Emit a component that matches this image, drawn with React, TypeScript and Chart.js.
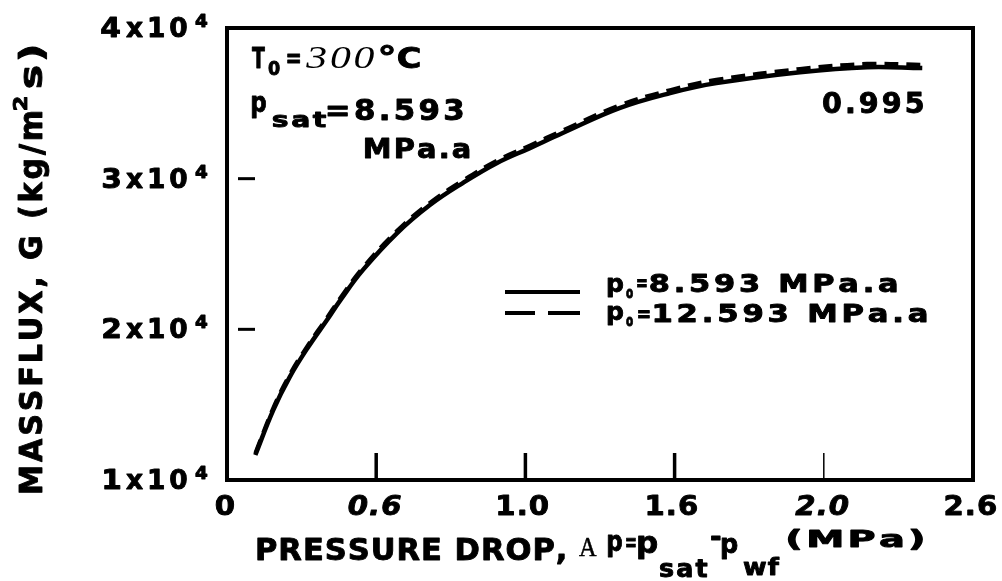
import React, { useEffect, useRef } from "react";
import { Chart, registerables } from "chart.js";

Chart.register(...registerables);

// ---- data (x in tick-interval units; the printed tick labels are below) ----
const xTickValues = [0, 1, 2, 3, 4, 5];
const xTickLabels = ["0", "0.6", "1.0", "1.6", "2.0", "2.6"];
const xTickItalic = [false, true, false, false, true, false];
const yTickValues = [10000, 20000, 30000, 40000];
const yTickMantissa = ["1", "2", "3", "4"];

const curveX = [0.19, 0.31, 0.42, 0.54, 0.67, 0.76, 0.91, 1.14, 1.36, 1.58, 1.81, 2.03, 2.25, 2.63, 2.97, 3.28, 3.84, 4.29, 4.66];
const solidG = [11660, 14640, 16830, 18760, 20620, 21940, 23930, 26390, 28250, 29710, 31040, 32030, 33030, 34680, 35680, 36340, 37070, 37400, 37340];
const dashedG = [11780, 14780, 16980, 18910, 20770, 22090, 24080, 26540, 28400, 29870, 31200, 32200, 33200, 34860, 35880, 36560, 37280, 37620, 37560];

const seriesValues = ["8.593 MPa.a", "12.593 MPa.a"];

const SANS = '"DejaVu Sans", "Liberation Sans", Arial, sans-serif';
const SERIF = '"Liberation Serif", "DejaVu Serif", serif';
const bold = (s: number) => `bold ${s}px ${SANS}`;

type Opt = { sx?: number; sp?: number; align?: "left" | "center" | "right"; x1?: number; heavy?: number };

// draws text char by char; aligns by ink extents; optional horizontal fit to [x, x1]
function place(ctx: CanvasRenderingContext2D, text: string, x: number, base: number, font: string, o: Opt = {}) {
  ctx.font = font;
  ctx.textAlign = "left";
  ctx.textBaseline = "alphabetic";
  const sp = o.sp ?? 0;
  const chars = [...text];
  const pos: number[] = [];
  let cx = 0;
  let inkL = Infinity;
  let inkR = -Infinity;
  chars.forEach((c) => {
    const m = ctx.measureText(c);
    pos.push(cx);
    if (c.trim()) {
      inkL = Math.min(inkL, cx - m.actualBoundingBoxLeft);
      inkR = Math.max(inkR, cx + m.actualBoundingBoxRight);
    }
    cx += m.width + sp;
  });
  const inkW = inkR - inkL;
  let sx = o.sx ?? 1;
  let ox = x - inkL * sx;
  if (o.x1 !== undefined) {
    sx = (o.x1 - x) / inkW;
    ox = x - inkL * sx;
  } else if (o.align === "center") {
    ox = x - (inkL + inkW / 2) * sx;
  } else if (o.align === "right") {
    ox = x - inkR * sx;
  }
  const heavy = o.heavy ?? (font.includes("bold") ? 0.9 : 0);
  ctx.save();
  ctx.translate(ox, base);
  ctx.scale(sx, 1);
  ctx.lineJoin = "round";
  chars.forEach((c, i) => {
    ctx.fillText(c, pos[i], 0);
    if (heavy > 0) {
      ctx.lineWidth = heavy;
      ctx.strokeText(c, pos[i], 0);
    }
  });
  ctx.restore();
}

const overlay = {
  id: "overlay",
  afterDraw(chart: any) {
    const ctx: CanvasRenderingContext2D = chart.ctx;
    const { left, top, right, bottom } = chart.chartArea;
    const xs = chart.scales.x;
    const ys = chart.scales.y;
    ctx.save();
    ctx.fillStyle = "#000";
    ctx.strokeStyle = "#000";

    // frame
    ctx.lineWidth = 4;
    ctx.setLineDash([]);
    ctx.strokeRect(left, top, right - left, bottom - top);

    // x ticks (inside) + labels
    xTickValues.forEach((v, i) => {
      const px = xs.getPixelForValue(v);
      if (i > 0 && i < xTickValues.length - 1) {
        ctx.lineWidth = i === 4 ? 1.5 : 3.5;
        ctx.beginPath();
        ctx.moveTo(px, bottom);
        ctx.lineTo(px, bottom - 27);
        ctx.stroke();
      }
      const f = (xTickItalic[i] ? "italic " : "") + bold(27);
      place(ctx, xTickLabels[i], px - 2, 515, f, { align: "center", sx: 1.08, sp: 1 });
    });

    // y ticks + labels
    yTickValues.forEach((v, i) => {
      const py = ys.getPixelForValue(v);
      if (i > 0 && i < yTickValues.length - 1) {
        ctx.lineWidth = 3;
        ctx.beginPath();
        ctx.moveTo(left + 11, py);
        ctx.lineTo(left + 28, py);
        ctx.stroke();
      }
      place(ctx, yTickMantissa[i], 120, py + 9, bold(27), { align: "right", sx: 1.1 });
      place(ctx, "x10", 126, py + 9, bold(27), { x1: 187, sp: 4 });
      place(ctx, "4", 195, py - 1, bold(17), { x1: 208 });
    });

    // annotation: T0 = 300 °C
    place(ctx, "T", 252, 68, bold(29), { x1: 265 });
    place(ctx, "0", 268, 75, bold(19), { x1: 280 });
    place(ctx, "=", 287, 67, bold(27), { x1: 300 });
    place(ctx, "300", 305, 68, `italic 31px ${SERIF}`, { x1: 375, sp: 2 });
    place(ctx, "°", 380, 68, bold(30), { x1: 394 });
    place(ctx, "C", 398, 68, bold(29), { x1: 420 });

    // p_sat = 8.593 MPa.a
    place(ctx, "p", 252, 112, bold(28), { x1: 266 });
    place(ctx, "sat", 273, 127, bold(22), { x1: 327, sp: 2 });
    place(ctx, "=8.593", 327, 120, bold(28), { x1: 463, sp: 3 });
    place(ctx, "MPa.a", 365, 158, bold(27), { x1: 470, sp: 2 });

    // 0.995
    place(ctx, "0.995", 823, 113, bold(28), { x1: 923, sp: 3 });

    // legend
    ctx.lineWidth = 4;
    ctx.beginPath();
    ctx.moveTo(505, 292);
    ctx.lineTo(580, 292);
    ctx.stroke();
    ctx.beginPath();
    ctx.moveTo(505, 313);
    ctx.lineTo(535, 313);
    ctx.moveTo(548, 313);
    ctx.lineTo(580, 313);
    ctx.stroke();
    place(ctx, "p", 608, 292, bold(25), { x1: 623 });
    place(ctx, "o", 626, 298, bold(15), { x1: 633 });
    place(ctx, "=", 637, 290, bold(22), { x1: 647 });
    place(ctx, seriesValues[0], 650, 292, bold(24), { x1: 897, sp: 3 });
    place(ctx, "p", 608, 320, bold(25), { x1: 623 });
    place(ctx, "o", 626, 326, bold(15), { x1: 633 });
    place(ctx, "=", 638, 321, bold(22), { x1: 650 });
    place(ctx, seriesValues[1], 654, 322, bold(24), { x1: 927, sp: 3 });

    // x axis title
    place(ctx, "PRESSURE DROP,", 257, 560, bold(30), { x1: 565, sp: 1 });
    place(ctx, "A", 579, 556, `27px ${SERIF}`, { x1: 597, heavy: 0.5 });
    place(ctx, "p", 608, 551, bold(28), { x1: 622 });
    place(ctx, "=", 626, 551, bold(25), { x1: 636 });
    place(ctx, "p", 638, 553, bold(31), { x1: 657 });
    place(ctx, "sat", 660, 577, bold(24), { x1: 707, sp: 2 });
    place(ctx, "-", 711, 546, bold(28), { x1: 721 });
    place(ctx, "p", 722, 553, bold(27), { x1: 738 });
    place(ctx, "wf", 743, 575, bold(23), { x1: 780, sp: 1 });
    place(ctx, "(MPa)", 787, 547, bold(23), { x1: 923, sp: 2 });

    // y axis title (rotated)
    ctx.save();
    ctx.translate(42, 493);
    ctx.rotate(-Math.PI / 2);
    place(ctx, "MASSFLUX, G (kg/m", 0, 0, bold(32), { x1: 381, sp: 3 });
    place(ctx, "2", 383, -15, bold(19), { x1: 396 });
    place(ctx, "s)", 405, 0, bold(32), { x1: 446, sp: 2 });
    ctx.restore();

    ctx.restore();
  },
};

export default function App() {
  const ref = useRef<HTMLCanvasElement | null>(null);
  useEffect(() => {
    if (!ref.current) return;
    const chart = new Chart(ref.current, {
      type: "line",
      data: {
        datasets: [
          {
            label: "p0=" + seriesValues[0],
            data: curveX.map((x, i) => ({ x, y: solidG[i] })),
            borderColor: "#000",
            borderWidth: 4.5,
            pointRadius: 0,
            tension: 0.4,
          },
          {
            label: "p0=" + seriesValues[1],
            data: curveX.map((x, i) => ({ x, y: dashedG[i] })),
            borderColor: "#000",
            borderWidth: 4,
            borderDash: [14, 8],
            pointRadius: 0,
            tension: 0.4,
          },
        ],
      },
      options: {
        responsive: false,
        animation: false,
        layout: { padding: { left: 227, right: 29, top: 28, bottom: 101 } },
        scales: {
          x: { type: "linear", min: 0, max: 5, display: false },
          y: { type: "linear", min: 10000, max: 40000, display: false },
        },
        plugins: { legend: { display: false }, tooltip: { enabled: false } },
      },
      plugins: [overlay],
    } as any);
    return () => chart.destroy();
  }, []);
  return (
    <div style={{ position: "absolute", left: 0, top: 0, width: 1002, height: 581, background: "#fff" }}>
      <canvas ref={ref} width={1002} height={581} style={{ display: "block" }} />
    </div>
  );
}
